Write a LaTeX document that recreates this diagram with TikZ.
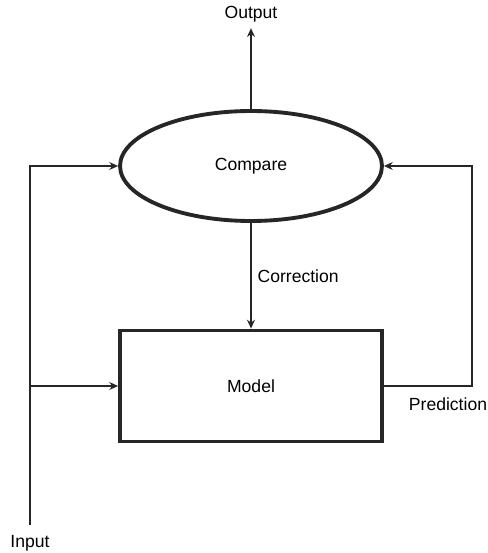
\documentclass[tikz,border=0pt]{standalone}
\usepackage{fontspec}
\setmainfont{Liberation Sans}
\usetikzlibrary{positioning, calc, shapes.geometric, arrows.meta}

\begin{document}
\begin{tikzpicture}[x=0.02cm, y=-0.02cm,
        thinline/.style={line width=0.9pt, draw=black!85},
        arr/.style={thinline, -{Stealth[length=5pt,width=4.5pt]}},
        blockbox/.style={draw=black!85, line width=2.2pt}]
        \useasboundingbox (0,0) rectangle (487,553);
        \node[ellipse,blockbox,minimum width=5.24cm,minimum height=2.2cm] (compare) at (251,166) {Compare};
        \node[rectangle,blockbox,minimum width=5.24cm,minimum height=2.22cm] (model) at (251,386) {Model};
        \node (out) at (251,14) {Output};
        \node (inlabel) at (30,543) {Input};
        \node (predlabel) at (448,404) {Prediction};
        \coordinate (in) at (30,525);
        \coordinate (fb) at (472,386);
        \draw[arr] (compare.north) -- (out.south);
        \draw[arr] (compare.south) -- node[right] {Correction} (model.north);
        \draw[arr] (in) |- (compare.west);
        \draw[arr] (in |- model.west) -- (model.west);
        \draw[arr] (model.east) -- (fb) |- (compare.east);
    \end{tikzpicture}
\end{document}
